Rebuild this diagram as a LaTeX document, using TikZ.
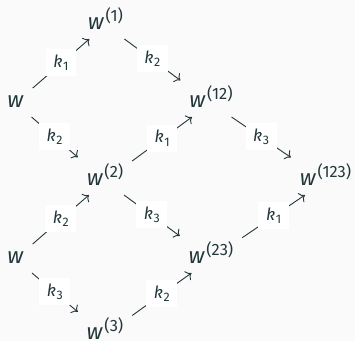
\documentclass[tikz,border=0pt]{standalone}
\usepackage{fontspec}
\setmainfont{Fira Sans}
\usepackage{tikz-cd}
\definecolor{ink}{HTML}{23373B}
\definecolor{paper}{HTML}{FAFAFA}
% w with an upright index raised as a superscript
\newcommand\wsup[1]{\textit{w}\kern0.7pt\raisebox{4.4pt}{\fontsize{8.2}{9}\selectfont(#1)}}
% k with a lowered index
\newcommand\klab[1]{\textit{k}\kern0.3pt\raisebox{-1.6pt}{\fontsize{6.2}{7}\selectfont #1}}
\tikzset{
  cell/.style={shape=asymmetrical rectangle,
    /tikz/commutative diagrams/center yshift=2.75pt,
    inner sep=4.5pt, outer sep=0pt, anchor=base,
    text=ink, font=\fontsize{11.2}{13}\selectfont},
  lab/.style={shape=asymmetrical rectangle,
    /tikz/commutative diagrams/center yshift=2pt,
    fill=white, text=ink, inner xsep=3.8pt, inner ysep=2.8pt,
    anchor=center, font=\fontsize{8.4}{9}\selectfont},
  edge/.style={draw=ink, line width=0.45pt, ->}
}
\begin{document}
\begin{tikzpicture}[x=0.5pt, y=-0.5pt]
  \fill[paper] (0,0) rectangle (355,341);
  \useasboundingbox (0,0) rectangle (355,341);

  \node[cell] (a) at (15.5,108) {\textit{w}};
  \node[cell] (b) at (105.5,30) {\wsup{1}};
  \node[cell] (c) at (211,108) {\wsup{12}};
  \node[cell] (d) at (105,186) {\wsup{2}};
  \node[cell] (e) at (325.5,186) {\wsup{123}};
  \node[cell] (f) at (15.5,264) {\textit{w}};
  \node[cell] (g) at (211,264) {\wsup{23}};
  \node[cell] (h) at (105,340) {\wsup{3}};

  \draw[edge] (a) -- node[lab] {\klab{1}} (b);
  \draw[edge] (b) -- node[lab] {\klab{2}} (c);
  \draw[edge] (a) -- node[lab] {\klab{2}} (d);
  \draw[edge] (d) -- node[lab] {\klab{1}} (c);
  \draw[edge] (c) -- node[lab] {\klab{3}} (e);
  \draw[edge] (f) -- node[lab] {\klab{2}} (d);
  \draw[edge] (d) -- node[lab] {\klab{3}} (g);
  \draw[edge] (f) -- node[lab] {\klab{3}} (h);
  \draw[edge] (h) -- node[lab] {\klab{2}} (g);
  \draw[edge] (g) -- node[lab] {\klab{1}} (e);
\end{tikzpicture}
\end{document}
